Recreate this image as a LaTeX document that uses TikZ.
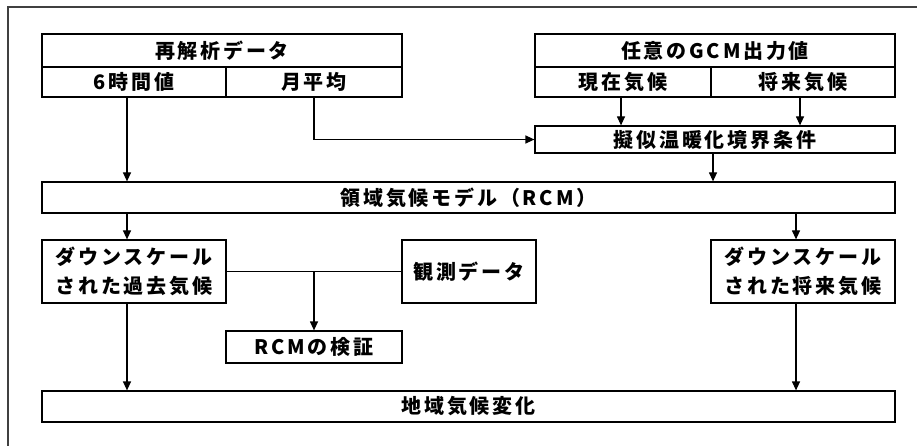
\documentclass[tikz,border=0pt]{standalone}
\usepackage{fontspec}
\setmainfont{Noto Sans CJK JP}[LetterSpace=14]
\usetikzlibrary{arrows.meta}
\begin{document}
\begin{tikzpicture}[x=1pt, y=-1pt, line width=1.2pt, line join=miter, >={Triangle[length=9pt,width=8pt]}]
	\tikzset{box/.style={draw, inner sep=0pt, align=center, font=\fontsize{20}{29}\selectfont\bfseries}}
	\useasboundingbox (0,0) rectangle (917,446);
	\clip (0,0) rectangle (917,446);
	\draw[black!75] (8,7) rectangle (940,470);
	% top row
	\node[box, minimum width=360pt, minimum height=33pt] (re) at (222,50.5) {再解析データ};
	\node[box, minimum width=184pt, minimum height=30pt] (six) at (134,82) {6時間値};
	\node[box, minimum width=176pt, minimum height=30pt] (mon) at (314,82) {月平均};
	\node[box, minimum width=360pt, minimum height=33pt] (gcm) at (715,50.5) {任意のGCM出力値};
	\node[box, minimum width=176pt, minimum height=30pt] (now) at (623,82) {現在気候};
	\node[box, minimum width=184pt, minimum height=30pt] (fut) at (803,82) {将来気候};
	\node[box, minimum width=360pt, minimum height=27pt] (pgw) at (715,139.5) {擬似温暖化境界条件};
	% model
	\node[box, minimum width=853pt, minimum height=31pt] (rcm) at (468.5,197.5) {領域気候モデル（RCM）};
	% downscaled results
	\node[box, minimum width=184pt, minimum height=63pt] (past) at (134,271.5) {ダウンスケール\\された過去気候};
	\node[box, minimum width=134pt, minimum height=63pt] (obs) at (469,271.5) {観測データ};
	\node[box, minimum width=176pt, minimum height=32pt] (ver) at (314,347) {RCMの検証};
	\node[box, minimum width=184pt, minimum height=63pt] (futds) at (803,271.5) {ダウンスケール\\された将来気候};
	\node[box, minimum width=853pt, minimum height=31pt] (reg) at (468.5,406.5) {地域気候変化};
	% connectors
	\draw[->] ([xshift=-7pt]six.south) -- ([xshift=-7pt]six.south |- rcm.north);
	\draw[->] (mon.south) |- (pgw.west);
	\draw[->] ([xshift=-2pt]now.south) -- ([xshift=-2pt]now.south |- pgw.north);
	\draw[->] ([xshift=-3pt]fut.south) -- ([xshift=-3pt]fut.south |- pgw.north);
	\draw[->] ([xshift=-2pt]pgw.south) -- ([xshift=-2pt]pgw.south |- rcm.north);
	\draw[->] ([xshift=-7pt]past.north |- rcm.south) -- ([xshift=-7pt]past.north);
	\draw[->] ([xshift=-7pt]futds.north |- rcm.south) -- ([xshift=-7pt]futds.north);
	\draw (past.east) -- (obs.west);
	\draw[->] (ver.north |- past.east) -- (ver.north);
	\draw[->] ([xshift=-7pt]past.south) -- ([xshift=-7pt]past.south |- reg.north);
	\draw[->] ([xshift=-7pt]futds.south) -- ([xshift=-7pt]futds.south |- reg.north);
\end{tikzpicture}
\end{document}
